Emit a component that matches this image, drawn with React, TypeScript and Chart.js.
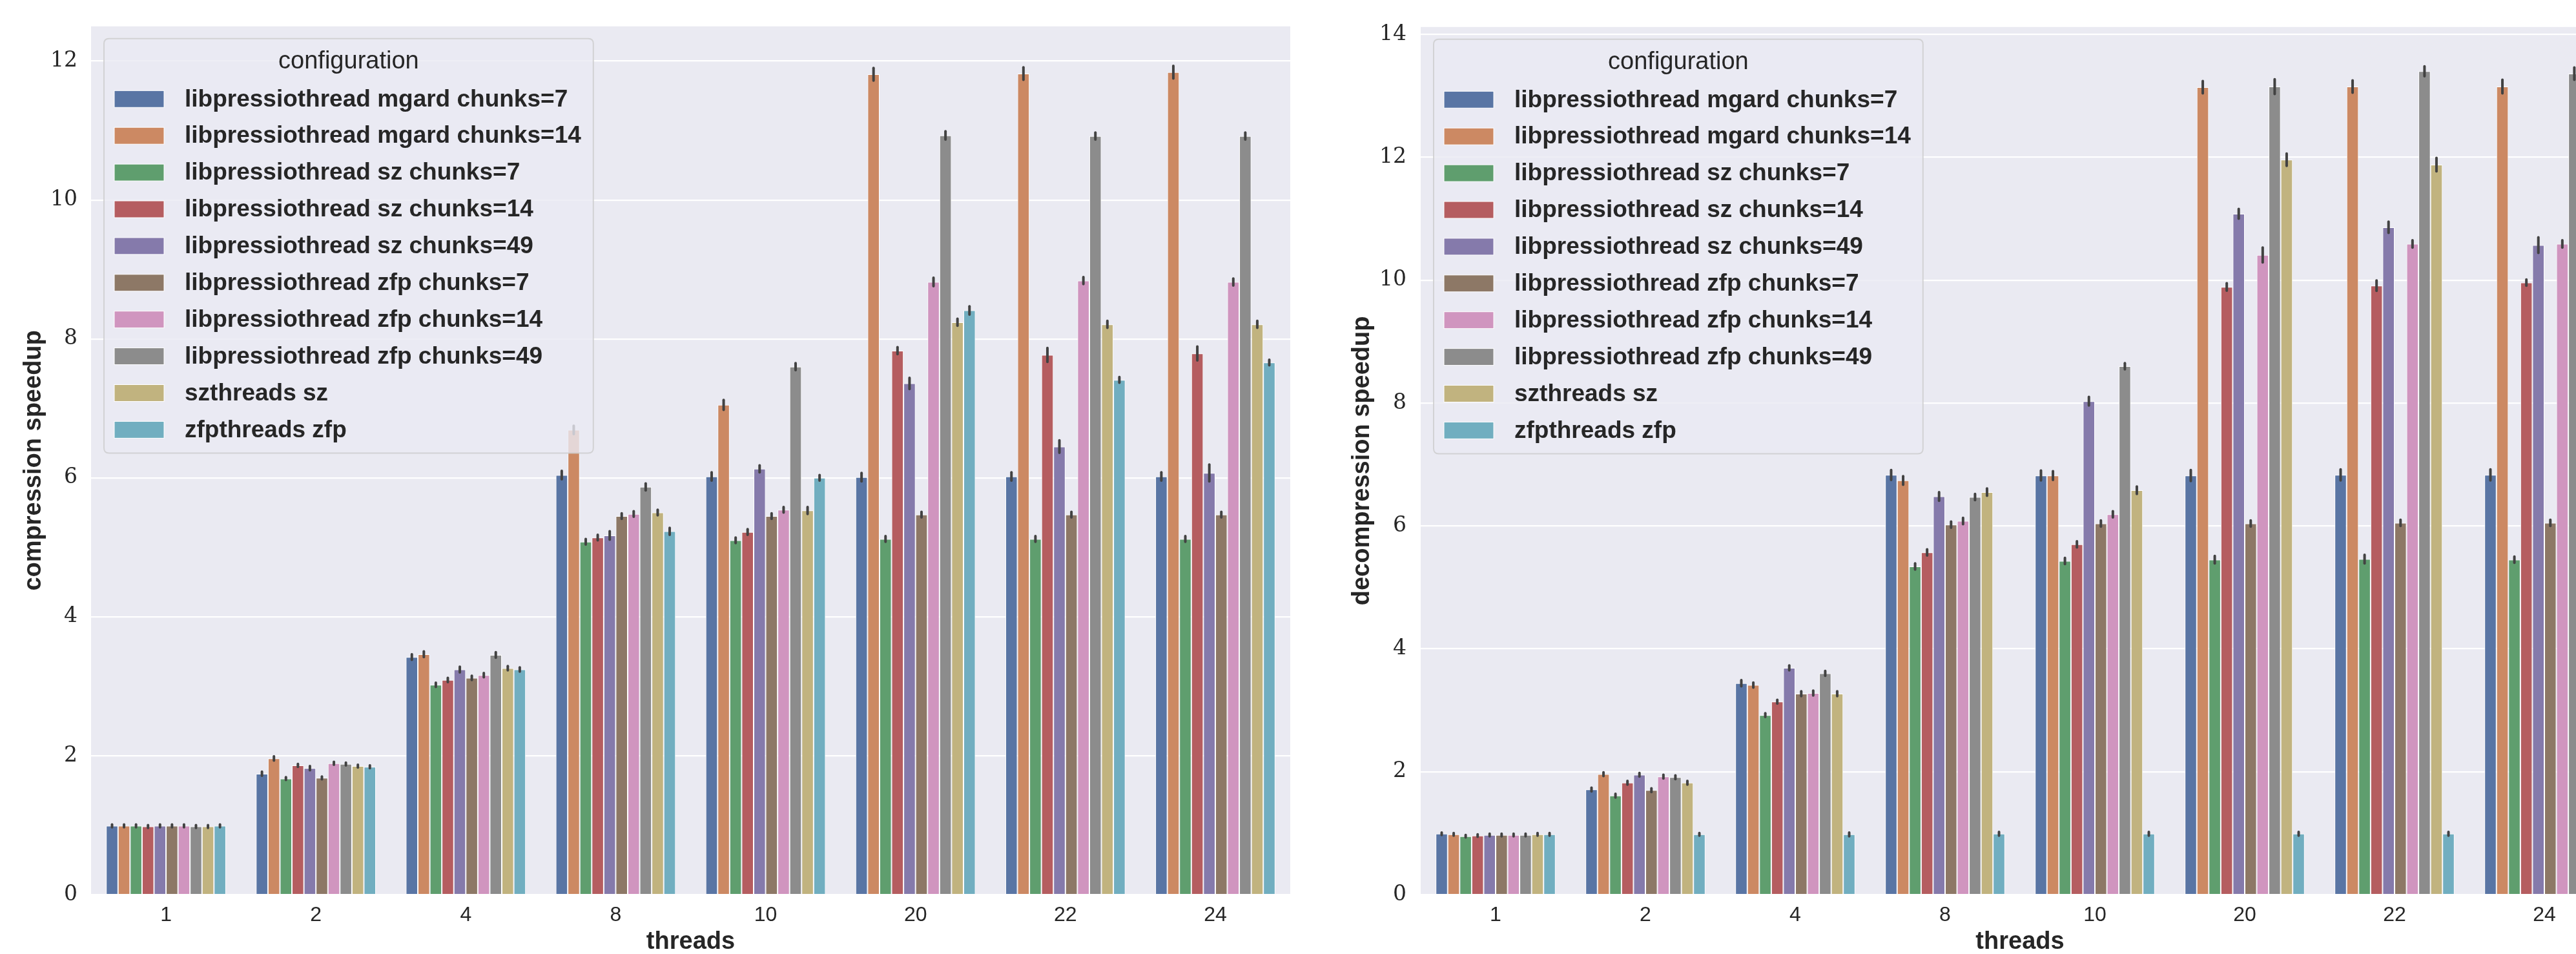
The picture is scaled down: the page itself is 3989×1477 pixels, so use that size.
import React, { useEffect, useRef } from "react";
import { Chart, registerables } from "chart.js";

Chart.register(...registerables);

// ---------- data ----------
const threads = ["1", "2", "4", "8", "10", "20", "22", "24"];

const seriesLabels = [
  "libpressiothread mgard chunks=7",
  "libpressiothread mgard chunks=14",
  "libpressiothread sz chunks=7",
  "libpressiothread sz chunks=14",
  "libpressiothread sz chunks=49",
  "libpressiothread zfp chunks=7",
  "libpressiothread zfp chunks=14",
  "libpressiothread zfp chunks=49",
  "szthreads sz",
  "zfpthreads zfp",
];

const seriesColors = [
  "#5975A4",
  "#CC8963",
  "#5F9E6E",
  "#B55D60",
  "#857AAB",
  "#8D7866",
  "#D095BF",
  "#8C8C8C",
  "#C1B37F",
  "#71AEC0",
];

// compression speedup (left panel)
const compMgard7 = [0.99, 1.74, 3.42, 6.04, 6.02, 6.01, 6.02, 6.02];
const compMgard14 = [0.99, 1.96, 3.46, 6.69, 7.05, 11.81, 11.82, 11.84];
const compSz7 = [0.99, 1.67, 3.02, 5.08, 5.1, 5.12, 5.12, 5.12];
const compSz14 = [0.98, 1.86, 3.09, 5.14, 5.22, 7.83, 7.77, 7.79];
const compSz49 = [0.99, 1.82, 3.24, 5.17, 6.13, 7.36, 6.45, 6.07];
const compZfp7 = [0.99, 1.68, 3.12, 5.45, 5.45, 5.47, 5.47, 5.47];
const compZfp14 = [0.99, 1.89, 3.16, 5.48, 5.54, 8.82, 8.84, 8.82];
const compZfp49 = [0.98, 1.88, 3.45, 5.87, 7.6, 10.93, 10.92, 10.92];
const compSzThreads = [0.98, 1.85, 3.26, 5.5, 5.53, 8.24, 8.21, 8.21];
const compZfpThreads = [0.99, 1.84, 3.24, 5.23, 6.0, 8.41, 7.41, 7.66];

const compErrMgard7 = [0.02, 0.03, 0.04, 0.06, 0.06, 0.06, 0.06, 0.06];
const compErrMgard14 = [0.02, 0.03, 0.04, 0.06, 0.07, 0.09, 0.09, 0.09];
const compErrSz7 = [0.02, 0.02, 0.03, 0.04, 0.04, 0.04, 0.04, 0.04];
const compErrSz14 = [0.02, 0.02, 0.03, 0.04, 0.04, 0.05, 0.1, 0.1];
const compErrSz49 = [0.02, 0.03, 0.04, 0.06, 0.05, 0.08, 0.09, 0.12];
const compErrZfp7 = [0.02, 0.02, 0.03, 0.04, 0.04, 0.04, 0.04, 0.04];
const compErrZfp14 = [0.02, 0.02, 0.03, 0.04, 0.04, 0.06, 0.05, 0.05];
const compErrZfp49 = [0.02, 0.02, 0.04, 0.05, 0.05, 0.06, 0.05, 0.05];
const compErrSzThreads = [0.02, 0.02, 0.03, 0.04, 0.05, 0.05, 0.05, 0.05];
const compErrZfpThreads = [0.02, 0.02, 0.03, 0.05, 0.04, 0.06, 0.04, 0.04];

// decompression speedup (right panel)
const decMgard7 = [0.99, 1.71, 3.44, 6.83, 6.82, 6.82, 6.83, 6.83];
const decMgard14 = [0.98, 1.96, 3.41, 6.74, 6.82, 13.14, 13.15, 13.15];
const decSz7 = [0.95, 1.61, 2.92, 5.34, 5.43, 5.45, 5.46, 5.45];
const decSz14 = [0.96, 1.82, 3.14, 5.57, 5.7, 9.89, 9.91, 9.96];
const decSz49 = [0.97, 1.95, 3.69, 6.48, 8.03, 11.08, 10.86, 10.57];
const decZfp7 = [0.97, 1.7, 3.27, 6.02, 6.04, 6.04, 6.05, 6.05];
const decZfp14 = [0.97, 1.92, 3.28, 6.08, 6.19, 10.41, 10.59, 10.59];
const decZfp49 = [0.97, 1.91, 3.6, 6.47, 8.6, 13.15, 13.4, 13.36];
const decSzThreads = [0.98, 1.82, 3.27, 6.55, 6.58, 11.96, 11.88, 11.9];
const decZfpThreads = [0.98, 0.98, 0.98, 0.99, 0.99, 0.99, 0.99, 0.99];

const decErrMgard7 = [0.02, 0.03, 0.05, 0.08, 0.08, 0.09, 0.09, 0.09];
const decErrMgard14 = [0.02, 0.03, 0.04, 0.07, 0.07, 0.1, 0.1, 0.11];
const decErrSz7 = [0.02, 0.03, 0.03, 0.05, 0.05, 0.06, 0.07, 0.05];
const decErrSz14 = [0.02, 0.03, 0.03, 0.05, 0.05, 0.06, 0.085, 0.05];
const decErrSz49 = [0.02, 0.03, 0.04, 0.07, 0.07, 0.08, 0.09, 0.125];
const decErrZfp7 = [0.02, 0.03, 0.04, 0.05, 0.05, 0.05, 0.05, 0.05];
const decErrZfp14 = [0.02, 0.03, 0.04, 0.05, 0.05, 0.12, 0.06, 0.06];
const decErrZfp49 = [0.02, 0.03, 0.04, 0.05, 0.05, 0.12, 0.08, 0.1];
const decErrSzThreads = [0.02, 0.03, 0.04, 0.06, 0.06, 0.1, 0.11, 0.1];
const decErrZfpThreads = [0.02, 0.02, 0.03, 0.03, 0.03, 0.03, 0.03, 0.03];

const compressionTicks = [0, 2, 4, 6, 8, 10, 12];
const decompressionTicks = [0, 2, 4, 6, 8, 10, 12, 14];

const compressionValues = [
  compMgard7, compMgard14, compSz7, compSz14, compSz49,
  compZfp7, compZfp14, compZfp49, compSzThreads, compZfpThreads,
];
const compressionErrors = [
  compErrMgard7, compErrMgard14, compErrSz7, compErrSz14, compErrSz49,
  compErrZfp7, compErrZfp14, compErrZfp49, compErrSzThreads, compErrZfpThreads,
];
const decompressionValues = [
  decMgard7, decMgard14, decSz7, decSz14, decSz49,
  decZfp7, decZfp14, decZfp49, decSzThreads, decZfpThreads,
];
const decompressionErrors = [
  decErrMgard7, decErrMgard14, decErrSz7, decErrSz14, decErrSz49,
  decErrZfp7, decErrZfp14, decErrZfp49, decErrSzThreads, decErrZfpThreads,
];

// ---------- styling ----------
const TEXT = "#262626";
const SANS = "'Liberation Sans', Arial, sans-serif";
const SERIF = "'DejaVu Serif', serif";
const H = 1477;

type PanelProps = {
  left: number;
  width: number;
  yWidth: number;
  padRight: number;
  yTitle: string;
  yTitlePad: number;
  yTickPad: number;
  yMax: number;
  yTicks: number[];
  values: number[][];
  errors: number[][];
};

function Panel(p: PanelProps) {
  const ref = useRef<HTMLCanvasElement | null>(null);

  useEffect(() => {
    if (!ref.current) return;

    const bgPlugin = {
      id: "axbg",
      beforeDraw(chart: any) {
        const { ctx, chartArea: a } = chart;
        ctx.save();
        ctx.fillStyle = "#EAEAF2";
        ctx.fillRect(a.left, a.top, a.right - a.left, a.bottom - a.top);
        ctx.restore();
      },
    };

    const errPlugin = {
      id: "errbars",
      afterDatasetsDraw(chart: any) {
        const { ctx } = chart;
        const y = chart.scales.y;
        ctx.save();
        ctx.strokeStyle = "#424242";
        ctx.lineWidth = 4;
        ctx.lineCap = "round";
        chart.data.datasets.forEach((ds: any, i: number) => {
          const meta = chart.getDatasetMeta(i);
          meta.data.forEach((el: any, j: number) => {
            const v = ds.data[j];
            const e = p.errors[i][j];
            ctx.beginPath();
            ctx.moveTo(el.x, y.getPixelForValue(v - e));
            ctx.lineTo(el.x, y.getPixelForValue(v + e));
            ctx.stroke();
          });
        });
        ctx.restore();
      },
    };

    const legendPlugin = {
      id: "boxlegend",
      afterDraw(chart: any) {
        const { ctx, chartArea: a } = chart;
        ctx.save();
        const entryFont = `bold 37px ${SANS}`;
        ctx.font = entryFont;
        let maxW = 0;
        seriesLabels.forEach((l) => {
          maxW = Math.max(maxW, ctx.measureText(l).width);
        });
        const bx = a.left + 20;
        const by = a.top + 19;
        const textOff = 125;
        const bw = textOff + maxW + 19;
        const rowStep = 56.9;
        const firstRow = 93.5;
        const bh = firstRow + rowStep * (seriesLabels.length - 1) + 36;
        const r = 8;
        ctx.beginPath();
        ctx.moveTo(bx + r, by);
        ctx.lineTo(bx + bw - r, by);
        ctx.quadraticCurveTo(bx + bw, by, bx + bw, by + r);
        ctx.lineTo(bx + bw, by + bh - r);
        ctx.quadraticCurveTo(bx + bw, by + bh, bx + bw - r, by + bh);
        ctx.lineTo(bx + r, by + bh);
        ctx.quadraticCurveTo(bx, by + bh, bx, by + bh - r);
        ctx.lineTo(bx, by + r);
        ctx.quadraticCurveTo(bx, by, bx + r, by);
        ctx.closePath();
        ctx.fillStyle = "rgba(234,234,242,0.8)";
        ctx.fill();
        ctx.lineWidth = 2;
        ctx.strokeStyle = "rgba(204,204,204,0.8)";
        ctx.stroke();

        ctx.fillStyle = TEXT;
        ctx.textBaseline = "middle";
        ctx.textAlign = "center";
        ctx.font = `38px ${SANS}`;
        ctx.fillText("configuration", bx + bw / 2, by + 36);

        ctx.textAlign = "left";
        ctx.font = entryFont;
        seriesLabels.forEach((l, k) => {
          const cy = by + firstRow + rowStep * k;
          ctx.fillStyle = seriesColors[k];
          ctx.fillRect(bx + 16, cy - 13, 77, 26);
          ctx.strokeStyle = "#ffffff";
          ctx.lineWidth = 1;
          ctx.strokeRect(bx + 16, cy - 13, 77, 26);
          ctx.fillStyle = TEXT;
          ctx.fillText(l, bx + textOff, cy + 1);
        });
        ctx.restore();
      },
    };

    const chart = new Chart(ref.current, {
      type: "bar",
      data: {
        labels: threads,
        datasets: p.values.map((vals, i) => ({
          label: seriesLabels[i],
          data: vals,
          backgroundColor: seriesColors[i],
          borderColor: "#ffffff",
          borderWidth: 1,
          categoryPercentage: 0.8,
          barPercentage: 1,
        })),
      },
      options: {
        responsive: false,
        animation: false,
        devicePixelRatio: 1,
        layout: { padding: { left: 0, top: 33, right: p.padRight, bottom: 0 } },
        plugins: {
          legend: { display: false },
          tooltip: { enabled: false },
          title: { display: false },
        },
        scales: {
          x: {
            type: "category",
            grid: { display: false, drawTicks: false },
            border: { display: false },
            ticks: {
              font: { family: SANS, size: 32 },
              color: TEXT,
              padding: 13,
              maxRotation: 0,
              autoSkip: false,
            },
            title: {
              display: true,
              text: "threads",
              color: TEXT,
              font: { family: SANS, size: 38, weight: "bold", lineHeight: 1 },
              padding: { top: 0, bottom: -1 },
            },
            afterFit: (s: any) => {
              s.height = 92;
            },
          },
          y: {
            type: "linear",
            min: 0,
            max: p.yMax,
            grid: { color: "#ffffff", lineWidth: 2.2, drawTicks: false },
            border: { display: false },
            ticks: {
              font: { family: SERIF, size: 33 },
              color: TEXT,
              padding: p.yTickPad,
            },
            afterBuildTicks: (s: any) => {
              s.ticks = p.yTicks.map((v) => ({ value: v }));
            },
            title: {
              display: true,
              text: p.yTitle,
              color: TEXT,
              font: { family: SANS, size: 38, weight: "bold", lineHeight: 1 },
              padding: { top: p.yTitlePad, bottom: 0 },
            },
            afterFit: (s: any) => {
              s.width = p.yWidth;
            },
          },
        },
      } as any,
      plugins: [bgPlugin, errPlugin, legendPlugin],
    });

    return () => chart.destroy();
  }, []);

  return (
    <canvas
      ref={ref}
      width={p.width}
      height={H}
      style={{ position: "absolute", left: p.left, top: 0, width: p.width, height: H }}
    />
  );
}

export default function App() {
  useEffect(() => {
    document.body.style.overflow = "hidden";
  }, []);
  return (
    <div
      style={{
        position: "fixed",
        left: 0,
        top: 0,
        width: 3989,
        height: H,
        overflow: "hidden",
        background: "#ffffff",
      }}
    >
      <Panel
        left={0}
        width={2040}
        yWidth={141}
        padRight={42}
        yTitle="compression speedup"
        yTitlePad={34}
        yTickPad={21}
        yMax={12.5}
        yTicks={compressionTicks}
        values={compressionValues}
        errors={compressionErrors}
      />
      <Panel
        left={2040}
        width={2060}
        yWidth={160}
        padRight={44}
        yTitle="decompression speedup"
        yTitlePad={51}
        yTickPad={22}
        yMax={14.12}
        yTicks={decompressionTicks}
        values={decompressionValues}
        errors={decompressionErrors}
      />
    </div>
  );
}
